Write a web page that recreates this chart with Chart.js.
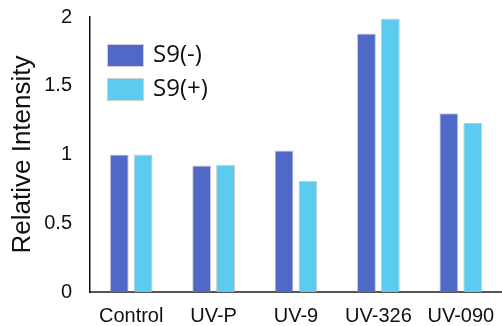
<!DOCTYPE html>
<html>
<head>
<meta charset="utf-8">
<script src="https://cdn.jsdelivr.net/npm/chart.js@4/dist/chart.umd.min.js"></script>
<style>
  html, body { margin: 0; padding: 0; background: #fff; }
  #wrap { width: 502px; height: 326px; }
</style>
</head>
<body>
<div id="wrap"><canvas id="chart"></canvas></div>
<script>
// categories and values
const categories = ["Control", "UV-P", "UV-9", "UV-326", "UV-090"];
const seriesLabels = ["S9(-)", "S9(+)"];
const s9Minus = [1.0, 0.92, 1.03, 1.88, 1.30];
const s9Plus = [1.0, 0.925, 0.81, 1.99, 1.23];
const yTicks = [0, 0.5, 1, 1.5, 2];

const colors = ["#5068C8", "#5CCBF0"];

// legend drawn inside the plot area
const insideLegend = {
    id: "insideLegend",
    afterDraw(chart) {
        const ctx = chart.ctx;
        const area = chart.chartArea;
        ctx.save();
        chart.data.datasets.forEach((ds, i) => {
            const x = area.left + 18;
            const y = area.top + 28 + i * 34;
            ctx.fillStyle = ds.backgroundColor;
            ctx.fillRect(x, y, 35, 21);
            ctx.strokeStyle = "#d0d0d0";
            ctx.lineWidth = 1;
            ctx.strokeRect(x - 0.5, y - 0.5, 36, 22);
            ctx.fillStyle = "#111";
            ctx.font = "24px 'Open Sans'";
            ctx.textBaseline = "middle";
            ctx.fillText(ds.label, x + 45, y + 10);
        });
        ctx.restore();
    }
};

new Chart(document.getElementById("chart"), {
    type: "bar",
    data: {
        labels: categories,
        datasets: [
            { label: seriesLabels[0], data: s9Minus, backgroundColor: colors[0] },
            { label: seriesLabels[1], data: s9Plus, backgroundColor: colors[1] }
        ]
    },
    options: {
        responsive: true,
        maintainAspectRatio: false,
        animation: false,
        categoryPercentage: 0.58,
        barPercentage: 0.79,
        elements: {
            bar: {
                borderWidth: { top: 1, right: 1, bottom: 0, left: 1 },
                borderColor: "rgba(140,140,140,0.45)"
            }
        },
        layout: { padding: { top: 17, right: 0, left: 7, bottom: 0 } },
        plugins: {
            legend: { display: false },
            tooltip: { enabled: false }
        },
        scales: {
            x: {
                grid: { display: false, drawTicks: false },
                border: { color: "#555", width: 2 },
                ticks: {
                    color: "#111",
                    padding: 14,
                    maxRotation: 0,
                    font: { family: "'Liberation Sans'", size: 20, lineHeight: 1 }
                },
                afterFit(scale) {
                    scale.height = 34;
                    scale.paddingLeft = 0;
                    scale.paddingRight = 0;
                }
            },
            y: {
                min: 0,
                max: 2,
                afterBuildTicks(axis) {
                    axis.ticks = yTicks.map(v => ({ value: v }));
                },
                grid: { display: false, drawTicks: false },
                border: { color: "#111", width: 1.5 },
                ticks: {
                    color: "#111",
                    padding: 18,
                    callback: v => String(v),
                    font: { family: "'Liberation Sans'", size: 20, lineHeight: 1.2 }
                },
                title: {
                    display: true,
                    text: "Relative Intensity",
                    color: "#111",
                    padding: { top: 0, bottom: 0 },
                    font: { family: "'Liberation Sans'", size: 26, lineHeight: 1.2 }
                },
                afterFit(scale) {
                    scale.width = 83;
                    scale.paddingTop = 0;
                    scale.paddingBottom = 0;
                }
            }
        }
    },
    plugins: [insideLegend]
});
</script>
</body>
</html>
